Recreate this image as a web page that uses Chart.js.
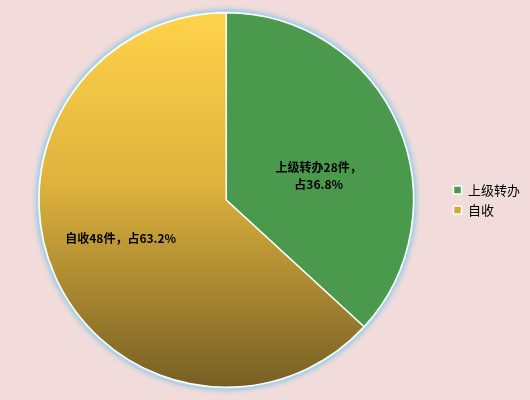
<!DOCTYPE html>
<html>
<head>
<meta charset="utf-8">
<script src="https://cdn.jsdelivr.net/npm/chart.js@4"></script>
<style>
  html, body { margin: 0; padding: 0; background: #f2dcdb; }
  #wrap { width: 530px; height: 400px; }
</style>
</head>
<body>
<div id="wrap"><canvas id="pieChart" width="530" height="400"></canvas></div>
<script>
// data
const categories = ['上级转办', '自收'];
const counts = [28, 48];
const percents = ['36.8%', '63.2%'];

const FONT = '"Noto Sans CJK SC", "Noto Sans", sans-serif';

// soft light-blue glow round the pie
const glowPlugin = {
    id: 'glow',
    beforeDatasetsDraw(chart) {
        const arc = chart.getDatasetMeta(0).data[0];
        if (!arc) return;
        const c = chart.ctx;
        c.save();
        c.beginPath();
        c.arc(arc.x, arc.y, arc.outerRadius + 1.5, 0, Math.PI * 2);
        c.shadowColor = 'rgba(80, 185, 230, 0.95)';
        c.shadowBlur = 6;
        c.fillStyle = '#b5e2f2';
        c.fill();
        c.restore();
    }
};

// labels inside each slice
const sliceLabels = {
    id: 'sliceLabels',
    afterDatasetsDraw(chart) {
        const c = chart.ctx;
        const arcs = chart.getDatasetMeta(0).data;
        // per-slice placement: radius fraction, angle shift, text lines
        const place = [
            { f: 0.51, shift: 0.16, lines: [categories[0] + counts[0] + '件，', '占' + percents[0]] },
            { f: 0.60, shift: 0.065, lines: [categories[1] + counts[1] + '件，占' + percents[1]] }
        ];
        c.save();
        c.fillStyle = '#000000';
        c.font = 'bold 12px ' + FONT;
        c.textAlign = 'center';
        c.textBaseline = 'middle';
        arcs.forEach((arc, i) => {
            const p = place[i];
            const mid = (arc.startAngle + arc.endAngle) / 2 + p.shift;
            const r = arc.outerRadius * p.f;
            const x = arc.x + Math.cos(mid) * r;
            const y = arc.y + Math.sin(mid) * r;
            const lh = 17;
            const y0 = y - (p.lines.length - 1) * lh / 2;
            p.lines.forEach((t, k) => c.fillText(t, x, y0 + k * lh));
        });
        c.restore();
    }
};

document.addEventListener('DOMContentLoaded', function() {
    const ctx = document.getElementById('pieChart').getContext('2d');

    const gold = ctx.createLinearGradient(0, 12, 0, 388);
    gold.addColorStop(0, '#ffd34a');
    gold.addColorStop(0.45, '#dfb33d');
    gold.addColorStop(1, '#765f25');

    new Chart(ctx, {
        type: 'pie',
        data: {
            labels: categories,
            datasets: [{
                data: counts,
                backgroundColor: ['#4a994d', gold],
                borderColor: '#ffffff',
                borderWidth: 1.5
            }]
        },
        options: {
            responsive: false,
            animation: false,
            rotation: 0,
            layout: { padding: { top: 12, bottom: 12, left: 6, right: 0 } },
            plugins: {
                legend: {
                    position: 'right',
                    labels: {
                        color: '#000000',
                        boxWidth: 8,
                        boxHeight: 8,
                        padding: 7,
                        font: { family: FONT, size: 13 }
                    }
                },
                tooltip: { enabled: false }
            }
        },
        plugins: [glowPlugin, sliceLabels]
    });
});
</script>
</body>
</html>
